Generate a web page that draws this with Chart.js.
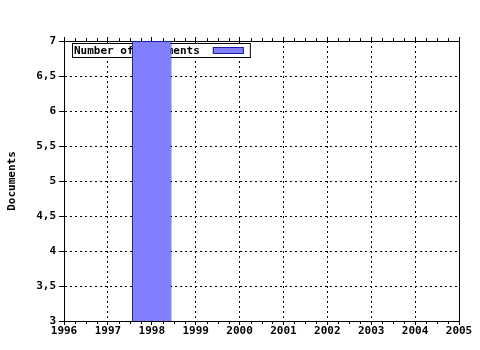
<!DOCTYPE html>
<html>
<head>
<meta charset="utf-8">
<script src="https://cdn.jsdelivr.net/npm/chart.js@4/dist/chart.umd.min.js"></script>
<style>
  html, body { margin: 0; padding: 0; background: #fff; }
  #wrap { width: 480px; height: 350px; }
</style>
</head>
<body>
<div id="wrap"><canvas id="myChart" width="480" height="350"></canvas></div>
<script>
// data
const years = [1998]
const documents = [7]
const yearTicks = [1996, 1997, 1998, 1999, 2000, 2001, 2002, 2003, 2004, 2005]
const docTicks = [3, 3.5, 4, 4.5, 5, 5.5, 6, 6.5, 7]
const seriesLabel = 'Number of documents'

const FONT = { family: '"DejaVu Sans Mono", monospace', size: 11, weight: 'bold' }

// legend box inside the plot, drawn behind the bars
const boxLegend = {
  id: 'boxLegend',
  beforeDatasetsDraw (chart) {
    const { ctx, chartArea } = chart
    const ds = chart.data.datasets[0]
    ctx.save()
    ctx.font = 'bold 11px "DejaVu Sans Mono", monospace'
    const tw = ctx.measureText(ds.label).width
    const x0 = Math.round(chartArea.left) + 8
    const y0 = Math.round(chartArea.top) + 2
    const sx = x0 + 2 + tw + 13
    const w = sx + 31 + 6 - x0
    ctx.fillStyle = '#fff'
    ctx.fillRect(x0, y0, w, 14)
    ctx.strokeStyle = '#000'
    ctx.lineWidth = 1
    ctx.strokeRect(x0 + 0.5, y0 + 0.5, w, 14)
    ctx.fillStyle = '#000'
    ctx.textBaseline = 'middle'
    ctx.fillText(ds.label, x0 + 2, y0 + 8)
    ctx.fillStyle = ds.backgroundColor
    ctx.fillRect(sx, y0 + 4, 31, 6)
    ctx.strokeStyle = ds.borderColor
    ctx.strokeRect(sx + 0.5, y0 + 4.5, 30, 6)
    ctx.restore()
  }
}

// minor x ticks and the right-hand frame line
const frame = {
  id: 'frame',
  afterDraw (chart) {
    const { ctx, chartArea } = chart
    const xs = chart.scales.x
    ctx.save()
    ctx.strokeStyle = '#000'
    ctx.lineWidth = 1
    ctx.beginPath()
    for (let v = xs.min; v < xs.max; v += 0.25) {
      if (Number.isInteger(v)) continue
      const px = Math.round(xs.getPixelForValue(v)) + 0.5
      ctx.moveTo(px, chartArea.bottom)
      ctx.lineTo(px, chartArea.bottom + 3)
      ctx.moveTo(px, chartArea.top)
      ctx.lineTo(px, chartArea.top - 3)
    }
    const rx = Math.round(chartArea.right) + 0.5
    ctx.moveTo(rx, chartArea.top)
    ctx.lineTo(rx, chartArea.bottom)
    ctx.stroke()
    ctx.restore()
  }
}

new Chart(document.getElementById('myChart'), {
  type: 'bar',
  data: {
    datasets: [
      {
        label: seriesLabel,
        data: years.map((yr, i) => ({ x: yr, y: documents[i] })),
        backgroundColor: '#8080ff',
        borderColor: '#1c1caa',
        borderWidth: 1,
        barPercentage: 0.9,
        categoryPercentage: 1
      }
    ]
  },
  options: {
    responsive: false,
    animation: false,
    layout: { padding: { left: 0, right: 21, top: 0, bottom: 0 } },
    plugins: {
      legend: { display: false },
      tooltip: { enabled: false }
    },
    scales: {
      x: {
        type: 'linear',
        position: 'bottom',
        min: yearTicks[0],
        max: yearTicks[yearTicks.length - 1],
        offset: false,
        afterBuildTicks: s => { s.ticks = yearTicks.map(v => ({ value: v })) },
        afterFit: s => { s.height = 29 },
        ticks: { color: '#000', font: FONT, padding: 0, autoSkip: false, maxRotation: 0, callback: v => String(v) },
        grid: { offset: false, color: '#000', lineWidth: 1, tickLength: 4, tickColor: '#000', tickBorderDash: [] },
        border: { display: true, color: '#000', width: 1, dash: [2, 3] }
      },
      x2: {
        type: 'linear',
        position: 'top',
        min: yearTicks[0],
        max: yearTicks[yearTicks.length - 1],
        offset: false,
        afterBuildTicks: s => { s.ticks = yearTicks.map(v => ({ value: v })) },
        afterFit: s => { s.height = 41 },
        ticks: { display: false },
        grid: { offset: false, drawOnChartArea: false, tickLength: 4, tickColor: '#000' },
        border: { display: true, color: '#000', width: 1 }
      },
      y: {
        min: docTicks[0],
        max: docTicks[docTicks.length - 1],
        afterBuildTicks: s => { s.ticks = docTicks.map(v => ({ value: v })) },
        afterFit: s => { s.width = 64 },
        ticks: { color: '#000', font: FONT, padding: 3, callback: v => String(v).replace('.', ',') },
        grid: { color: '#000', lineWidth: 1, tickLength: 5, tickColor: '#000', tickBorderDash: [] },
        border: { display: true, color: '#000', width: 1, dash: [2, 3] },
        title: { display: true, text: 'Documents', color: '#000', font: FONT, padding: { top: 6, bottom: 0 } }
      }
    }
  },
  plugins: [boxLegend, frame]
})
</script>
</body>
</html>
